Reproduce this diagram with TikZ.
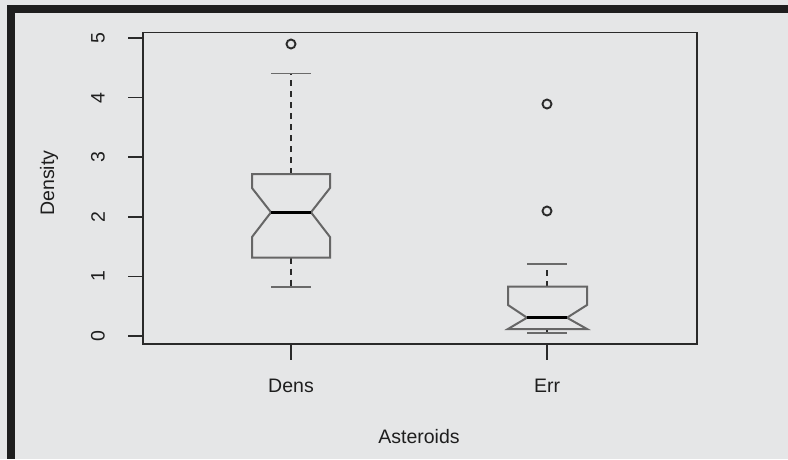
\documentclass[tikz,border=0pt]{standalone}
\usepackage{fontspec}
\setmainfont{Liberation Sans}
\definecolor{bg}{HTML}{E5E6E7}
\definecolor{frame}{HTML}{1E1E1E}
\definecolor{axisc}{HTML}{2A2A2A}
\definecolor{boxc}{HTML}{666666}
\definecolor{capc}{HTML}{6A6A6A}
\definecolor{txt}{HTML}{1E1E1E}
\tikzset{
  axisline/.style={draw=axisc, line width=1.9pt},
  tickline/.style={draw=axisc, line width=1.7pt},
  boxline/.style={draw=boxc, line width=2pt, line join=miter},
  medline/.style={draw=black, line width=3pt},
  whisk/.style={draw=axisc, line width=1.6pt, dash pattern=on 6pt off 5pt},
  capline/.style={draw=capc, line width=1.9pt},
  outl/.style={draw=axisc, line width=1.9pt},
  lab/.style={text=txt, font=\fontsize{19.5}{22}\selectfont, inner sep=0pt},
}
\begin{document}
\begin{tikzpicture}[x=1pt,y=-1pt]
\useasboundingbox (0,0) rectangle (788,459);
\fill[bg] (0,0) rectangle (788,459);
% frame bars
\fill[frame] (7,5) rectangle (788,12.7);
\fill[frame] (7,5) rectangle (15,459);
% plot box
\draw[axisline] (143,32.5) rectangle (697,344);
% y ticks
\foreach \v/\yy in {0/336,1/276.4,2/216.8,3/157.2,4/97.6,5/38}{
  \draw[tickline] (128,\yy) -- (143,\yy);
  \node[lab, rotate=90] (yl\v) at (98,\yy) {\v};
}
% x ticks
\draw[tickline] (291,344) -- (291,360);
\draw[tickline] (547,344) -- (547,360);
\node[lab] (xl1) at (291,386) {Dens};
\node[lab] (xl2) at (547,386) {Err};
\node[lab] (xt) at (419,437) {Asteroids};
\node[lab, rotate=90] (yt) at (49,183) {Density};
% Dens box
\draw[whisk] (291,174) -- (291,73.5);
\draw[whisk] (291,257.7) -- (291,286.7);
\draw[capline] (271,73.5) -- (311,73.5);
\draw[capline] (271,286.7) -- (311,286.7);
\draw[boxline] (252,257.7) -- (252,237) -- (271,212.3) -- (252,188) -- (252,174)
  -- (330,174) -- (330,188) -- (311,212.3) -- (330,237) -- (330,257.7) -- cycle;
\draw[medline] (271,212.3) -- (311,212.3);
\draw[outl] (291,44) circle (4.5);
% Err box
\draw[whisk] (547,286.7) -- (547,264);
\draw[whisk] (547,329) -- (547,332.7);
\draw[capline] (527,264) -- (567,264);
\draw[capline] (527,332.7) -- (567,332.7);
\draw[boxline] (508,329) -- (527,317.7) -- (508,305) -- (508,286.7)
  -- (587,286.7) -- (587,305) -- (567,317.7) -- (587,329) -- cycle;
\draw[medline] (527,317.7) -- (567,317.7);
\draw[outl] (547,104) circle (4.5);
\draw[outl] (547,211) circle (4.5);
\end{tikzpicture}
\end{document}
